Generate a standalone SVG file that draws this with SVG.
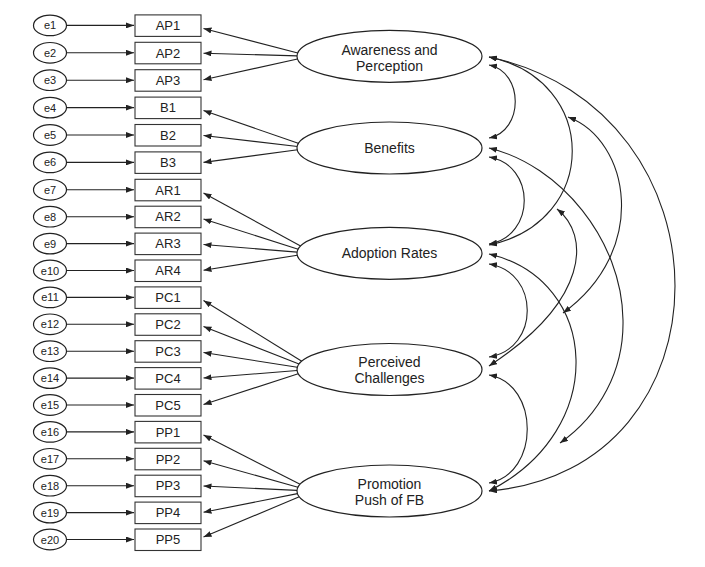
<svg xmlns="http://www.w3.org/2000/svg" width="705" height="567" viewBox="0 0 705 567">
<style>
.bg{fill:#fff}
.err{fill:#fff;stroke:#222;stroke-width:1.2}
.box{fill:#fff;stroke:#333;stroke-width:1.1}
.lat{fill:#fff;stroke:#222;stroke-width:1.2}
.et{font-family:"Liberation Sans",Arial,sans-serif;font-size:11px;fill:#222;text-anchor:middle}
.bt{font-family:"Liberation Sans",Arial,sans-serif;font-size:13px;fill:#222;text-anchor:middle}
.lt{font-family:"Liberation Sans",Arial,sans-serif;font-size:14px;fill:#222;text-anchor:middle}
.c line,.c path{stroke:#222;stroke-width:1.1;fill:none}
.c line{marker-end:url(#ah)}
.c path{marker-start:url(#ah);marker-end:url(#ah)}
</style>
<defs>
<marker id="ah" viewBox="0 0 8 6" refX="8" refY="3" markerWidth="8" markerHeight="6" markerUnits="userSpaceOnUse" orient="auto-start-reverse"><path d="M0,0 L8,3 L0,6 z" fill="#222"/></marker>
</defs>
<rect class="bg" x="0" y="0" width="705" height="567"/>

<g id="connectors" class="c">
<!-- error arrows -->
<line x1="67" y1="25.4" x2="134" y2="25.4"/>
<line x1="67" y1="52.8" x2="134" y2="52.8"/>
<line x1="67" y1="80.2" x2="134" y2="80.2"/>
<line x1="67" y1="107.6" x2="134" y2="107.6"/>
<line x1="67" y1="135" x2="134" y2="135"/>
<line x1="67" y1="162.4" x2="134" y2="162.4"/>
<line x1="67" y1="189.8" x2="134" y2="189.8"/>
<line x1="67" y1="216.7" x2="134" y2="216.7"/>
<line x1="67" y1="243.6" x2="134" y2="243.6"/>
<line x1="67" y1="270.5" x2="134" y2="270.5"/>
<line x1="67" y1="297.4" x2="134" y2="297.4"/>
<line x1="67" y1="324.3" x2="134" y2="324.3"/>
<line x1="67" y1="351.2" x2="134" y2="351.2"/>
<line x1="67" y1="378.1" x2="134" y2="378.1"/>
<line x1="67" y1="405" x2="134" y2="405"/>
<line x1="67" y1="431.9" x2="134" y2="431.9"/>
<line x1="67" y1="458.8" x2="134" y2="458.8"/>
<line x1="67" y1="485.7" x2="134" y2="485.7"/>
<line x1="67" y1="512.6" x2="134" y2="512.6"/>
<line x1="67" y1="539.5" x2="134" y2="539.5"/>
<!-- loadings -->
<line x1="297.8" y1="53" x2="203.5" y2="28.5"/>
<line x1="297.2" y1="55.9" x2="203.5" y2="53.2"/>
<line x1="297.5" y1="59" x2="203.5" y2="79.7"/>
<line x1="298.9" y1="143.5" x2="203.5" y2="110.5"/>
<line x1="297.6" y1="146.5" x2="203.5" y2="135.5"/>
<line x1="297.7" y1="149.7" x2="203.5" y2="162.4"/>
<line x1="300.6" y1="246.1" x2="203.5" y2="193"/>
<line x1="298.2" y1="249.2" x2="203.5" y2="219"/>
<line x1="297.1" y1="252.1" x2="203.5" y2="244.5"/>
<line x1="297.3" y1="255.3" x2="203.5" y2="270.2"/>
<line x1="301.8" y1="361.2" x2="203.5" y2="300.5"/>
<line x1="299" y1="364.1" x2="203.5" y2="326.5"/>
<line x1="297.3" y1="367.3" x2="203.5" y2="352.5"/>
<line x1="297.1" y1="370.5" x2="203.5" y2="378"/>
<line x1="298.2" y1="373.7" x2="203.5" y2="404.5"/>
<line x1="300.1" y1="484.3" x2="203.5" y2="435"/>
<line x1="297.9" y1="487.3" x2="203.5" y2="460.7"/>
<line x1="297" y1="490.4" x2="203.5" y2="486"/>
<line x1="297.5" y1="493.6" x2="203.5" y2="512.3"/>
<line x1="299.3" y1="496.8" x2="203.5" y2="537"/>
<!-- covariances -->
<path d="M489,65 C524,72 524,131 489,138"/>
<path d="M489,57 C600,80 600,222 489,245"/>
<path d="M489,57 C737,110 737,470 489,491"/>
<path d="M489,157 C536,165 536,236 489,244"/>
<path d="M568,117 C630,140 650,250 563,313"/>
<path d="M557,209 C590,235 590,300 489,366"/>
<path d="M489,148 C560,165 622,240 623,320 C624,370 600,415 560,443"/>
<path d="M489,254 C600,280 610,430 489,491"/>
<path d="M489,264 C540,272 540,349 489,357"/>
<path d="M489,375 C540,384 540,474 489,483"/>
</g>

<g id="e1"><ellipse class="err" cx="50" cy="25.4" rx="16.5" ry="10.3"/><text class="et" x="50" y="29.4">e1</text></g>
<g id="e2"><ellipse class="err" cx="50" cy="52.8" rx="16.5" ry="10.3"/><text class="et" x="50" y="56.8">e2</text></g>
<g id="e3"><ellipse class="err" cx="50" cy="80.2" rx="16.5" ry="10.3"/><text class="et" x="50" y="84.2">e3</text></g>
<g id="e4"><ellipse class="err" cx="50" cy="107.6" rx="16.5" ry="10.3"/><text class="et" x="50" y="111.6">e4</text></g>
<g id="e5"><ellipse class="err" cx="50" cy="135" rx="16.5" ry="10.3"/><text class="et" x="50" y="139">e5</text></g>
<g id="e6"><ellipse class="err" cx="50" cy="162.4" rx="16.5" ry="10.3"/><text class="et" x="50" y="166.4">e6</text></g>
<g id="e7"><ellipse class="err" cx="50" cy="189.8" rx="16.5" ry="10.3"/><text class="et" x="50" y="193.8">e7</text></g>
<g id="e8"><ellipse class="err" cx="50" cy="216.7" rx="16.5" ry="10.3"/><text class="et" x="50" y="220.7">e8</text></g>
<g id="e9"><ellipse class="err" cx="50" cy="243.6" rx="16.5" ry="10.3"/><text class="et" x="50" y="247.6">e9</text></g>
<g id="e10"><ellipse class="err" cx="50" cy="270.5" rx="16.5" ry="10.3"/><text class="et" x="50" y="274.5">e10</text></g>
<g id="e11"><ellipse class="err" cx="50" cy="297.4" rx="16.5" ry="10.3"/><text class="et" x="50" y="301.4">e11</text></g>
<g id="e12"><ellipse class="err" cx="50" cy="324.3" rx="16.5" ry="10.3"/><text class="et" x="50" y="328.3">e12</text></g>
<g id="e13"><ellipse class="err" cx="50" cy="351.2" rx="16.5" ry="10.3"/><text class="et" x="50" y="355.2">e13</text></g>
<g id="e14"><ellipse class="err" cx="50" cy="378.1" rx="16.5" ry="10.3"/><text class="et" x="50" y="382.1">e14</text></g>
<g id="e15"><ellipse class="err" cx="50" cy="405" rx="16.5" ry="10.3"/><text class="et" x="50" y="409">e15</text></g>
<g id="e16"><ellipse class="err" cx="50" cy="431.9" rx="16.5" ry="10.3"/><text class="et" x="50" y="435.9">e16</text></g>
<g id="e17"><ellipse class="err" cx="50" cy="458.8" rx="16.5" ry="10.3"/><text class="et" x="50" y="462.8">e17</text></g>
<g id="e18"><ellipse class="err" cx="50" cy="485.7" rx="16.5" ry="10.3"/><text class="et" x="50" y="489.7">e18</text></g>
<g id="e19"><ellipse class="err" cx="50" cy="512.6" rx="16.5" ry="10.3"/><text class="et" x="50" y="516.6">e19</text></g>
<g id="e20"><ellipse class="err" cx="50" cy="539.5" rx="16.5" ry="10.3"/><text class="et" x="50" y="543.5">e20</text></g>

<g id="AP1"><rect class="box" x="135" y="14.9" width="66" height="21.5"/><text class="bt" x="168" y="30.1">AP1</text></g>
<g id="AP2"><rect class="box" x="135" y="42.3" width="66" height="21.5"/><text class="bt" x="168" y="57.5">AP2</text></g>
<g id="AP3"><rect class="box" x="135" y="69.7" width="66" height="21.5"/><text class="bt" x="168" y="84.9">AP3</text></g>
<g id="B1"><rect class="box" x="135" y="97.1" width="66" height="21.5"/><text class="bt" x="168" y="112.3">B1</text></g>
<g id="B2"><rect class="box" x="135" y="124.5" width="66" height="21.5"/><text class="bt" x="168" y="139.7">B2</text></g>
<g id="B3"><rect class="box" x="135" y="151.9" width="66" height="21.5"/><text class="bt" x="168" y="167.1">B3</text></g>
<g id="AR1"><rect class="box" x="135" y="179.3" width="66" height="21.5"/><text class="bt" x="168" y="194.5">AR1</text></g>
<g id="AR2"><rect class="box" x="135" y="206.2" width="66" height="21.5"/><text class="bt" x="168" y="221.4">AR2</text></g>
<g id="AR3"><rect class="box" x="135" y="233.1" width="66" height="21.5"/><text class="bt" x="168" y="248.3">AR3</text></g>
<g id="AR4"><rect class="box" x="135" y="260" width="66" height="21.5"/><text class="bt" x="168" y="275.2">AR4</text></g>
<g id="PC1"><rect class="box" x="135" y="286.9" width="66" height="21.5"/><text class="bt" x="168" y="302.1">PC1</text></g>
<g id="PC2"><rect class="box" x="135" y="313.8" width="66" height="21.5"/><text class="bt" x="168" y="329">PC2</text></g>
<g id="PC3"><rect class="box" x="135" y="340.7" width="66" height="21.5"/><text class="bt" x="168" y="355.9">PC3</text></g>
<g id="PC4"><rect class="box" x="135" y="367.6" width="66" height="21.5"/><text class="bt" x="168" y="382.8">PC4</text></g>
<g id="PC5"><rect class="box" x="135" y="394.5" width="66" height="21.5"/><text class="bt" x="168" y="409.7">PC5</text></g>
<g id="PP1"><rect class="box" x="135" y="421.4" width="66" height="21.5"/><text class="bt" x="168" y="436.6">PP1</text></g>
<g id="PP2"><rect class="box" x="135" y="448.3" width="66" height="21.5"/><text class="bt" x="168" y="463.5">PP2</text></g>
<g id="PP3"><rect class="box" x="135" y="475.2" width="66" height="21.5"/><text class="bt" x="168" y="490.4">PP3</text></g>
<g id="PP4"><rect class="box" x="135" y="502.1" width="66" height="21.5"/><text class="bt" x="168" y="517.3">PP4</text></g>
<g id="PP5"><rect class="box" x="135" y="529" width="66" height="21.5"/><text class="bt" x="168" y="544.2">PP5</text></g>

<g id="awareness"><ellipse class="lat" cx="389.5" cy="56.3" rx="92.5" ry="26"/><text class="lt" x="389.5" y="55">Awareness and</text><text class="lt" x="389.5" y="71">Perception</text></g>
<g id="benefits"><ellipse class="lat" cx="389.5" cy="148" rx="92.5" ry="26"/><text class="lt" x="389.5" y="153.3">Benefits</text></g>
<g id="adoption"><ellipse class="lat" cx="389.5" cy="253.3" rx="92.5" ry="26"/><text class="lt" x="389.5" y="258">Adoption Rates</text></g>
<g id="challenges"><ellipse class="lat" cx="389.5" cy="369.5" rx="92.5" ry="26"/><text class="lt" x="389.5" y="366.5">Perceived</text><text class="lt" x="389.5" y="383">Challenges</text></g>
<g id="promotion"><ellipse class="lat" cx="389.5" cy="491" rx="92.5" ry="26"/><text class="lt" x="389.5" y="488.5">Promotion</text><text class="lt" x="389.5" y="505">Push of FB</text></g>
</svg>
